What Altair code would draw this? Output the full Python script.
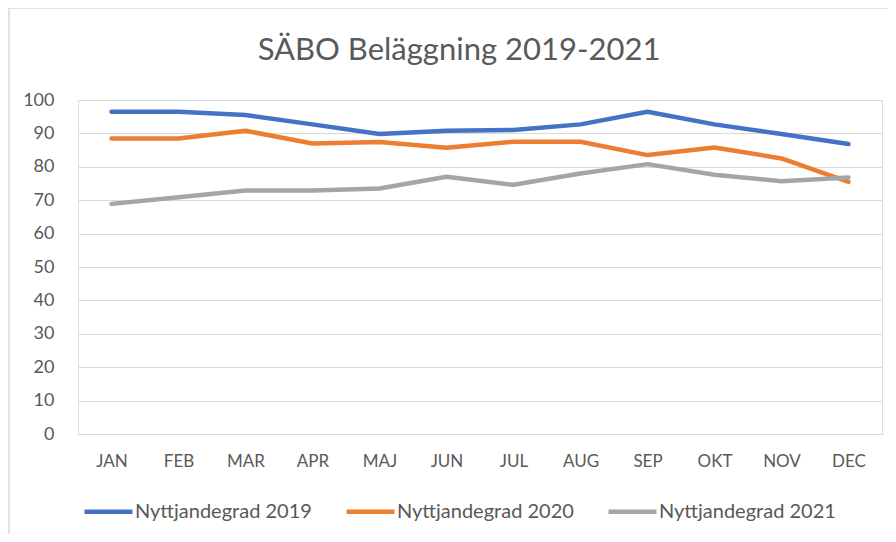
import altair as alt
import pandas as pd

months = ["JAN", "FEB", "MAR", "APR", "MAJ", "JUN", "JUL", "AUG", "SEP", "OKT", "NOV", "DEC"]
series_names = ["Nyttjandegrad 2019", "Nyttjandegrad 2020", "Nyttjandegrad 2021"]
v2019 = [96.5, 96.5, 95.5, 92.7, 89.8, 90.8, 91.0, 92.7, 96.5, 92.7, 89.8, 86.8]
v2020 = [88.5, 88.5, 90.8, 87.0, 87.4, 85.7, 87.5, 87.5, 83.5, 85.8, 82.5, 75.5]
v2021 = [68.9, 70.9, 72.9, 72.9, 73.5, 77.0, 74.6, 78.0, 80.8, 77.6, 75.7, 76.8]
colors = ["#4472C4", "#ED7D31", "#A5A5A5"]
y_ticks = [0, 10, 20, 30, 40, 50, 60, 70, 80, 90, 100]
title_text = "SÄBO Beläggning 2019-2021"

rows = []
for name, vals in zip(series_names, [v2019, v2020, v2021]):
    for m, v in zip(months, vals):
        rows.append({"month": m, "series": name, "value": v})
df = pd.DataFrame(rows)

FONT = "Lato, Roboto, sans-serif"
GREY_TXT = "#595959"
GRID = "#D9D9D9"

lines = alt.Chart(df).mark_line(strokeWidth=4.5, strokeCap="round", strokeJoin="round").encode(
    x=alt.X("month:N", sort=months, title=None,
            scale=alt.Scale(type="point", padding=0.5),
            axis=alt.Axis(domain=False, ticks=False, labelAngle=0, labelPadding=19,
                          labelFontSize=17, labelColor=GREY_TXT, labelFont=FONT, grid=False)),
    y=alt.Y("value:Q", title=None,
            scale=alt.Scale(domain=[0, 100], nice=False),
            axis=alt.Axis(values=y_ticks, domain=False, ticks=False, labelPadding=24,
                          labelFontSize=18, labelColor=GREY_TXT, labelFont=FONT,
                          gridColor=GRID, gridWidth=1.2)),
    color=alt.Color("series:N", sort=series_names,
                    scale=alt.Scale(domain=series_names, range=colors),
                    legend=alt.Legend(title=None, orient="none", legendX=4, legendY=385,
                                      direction="horizontal", columns=3,
                                      symbolType="stroke", symbolSize=2304, symbolStrokeWidth=4.5,
                                      labelFontSize=20, labelColor=GREY_TXT, labelFont=FONT,
                                      labelOffset=0, labelLimit=400, columnPadding=25)),
)

border_top = alt.Chart(pd.DataFrame({"a": [0]})).mark_rule(color=GRID, strokeWidth=1.5).encode(
    x=alt.value(-69), x2=alt.value(820), y=alt.value(-92)
)
border_left = alt.Chart(pd.DataFrame({"a": [0]})).mark_rule(color=GRID, strokeWidth=1.5).encode(
    x=alt.value(-69), y=alt.value(-92), y2=alt.value(442)
)

chart = alt.layer(border_top, border_left, lines).properties(
    width=804, height=334,
    padding={"left": 70, "top": 92, "right": 6, "bottom": 100},
    autosize=alt.AutoSizeParams(type="none"),
    title=alt.TitleParams(title_text, fontSize=31, font=FONT, color=GREY_TXT,
                          fontWeight="normal", anchor="middle", dx=-21, offset=-60),
).configure_view(stroke=None).configure(background="white")

chart.save("out.html", embed_options={"renderer": "svg", "actions": False})
